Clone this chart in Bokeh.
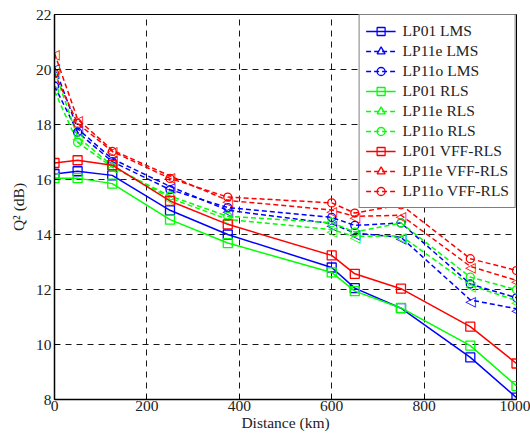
from bokeh.plotting import figure
from bokeh.models import Range1d, FixedTicker, Legend, LegendItem
from bokeh.core.properties import value
from bokeh.embed import file_html
from bokeh.resources import INLINE

distance = [0, 50, 125, 250, 375, 600, 650, 750, 900, 1000]

lp01_lms = [16.2, 16.3, 16.15, 14.88, 14.0, 12.8, 12.05, 11.32, 9.53, 8.07]
lp11e_lms = [20.1, 17.85, 16.75, 15.75, 14.88, 14.4, 14.05, 13.9, 11.62, 11.3]
lp11o_lms = [19.4, 17.72, 16.65, 15.63, 14.98, 14.62, 14.33, 14.42, 12.2, 11.7]
lp01_rls = [16.05, 16.05, 15.85, 14.54, 13.69, 12.62, 11.94, 11.33, 9.96, 8.49]
lp11e_rls = [19.95, 17.55, 16.5, 15.32, 14.55, 14.18, 13.93, 13.95, 12.15, 11.6]
lp11o_rls = [19.22, 17.35, 16.45, 15.4, 14.66, 14.43, 14.09, 14.42, 12.45, 11.99]
lp01_vff = [16.6, 16.7, 16.52, 15.22, 14.37, 13.24, 12.57, 12.03, 10.65, 9.31]
lp11e_vff = [20.59, 18.19, 17.07, 16.13, 15.24, 14.89, 14.66, 14.70, 12.84, 12.33]
lp11o_vff = [19.86, 18.04, 17.02, 16.04, 15.36, 15.15, 14.78, 15.08, 13.12, 12.69]

x_ticks = [0, 200, 400, 600, 800, 1000]
y_ticks = [8, 10, 12, 14, 16, 18, 20, 22]

series = [
    ("LP01 LMS", lp01_lms, "#0000FF", "solid", "square"),
    ("LP11e LMS", lp11e_lms, "#0000FF", "dashed", "left_triangle"),
    ("LP11o LMS", lp11o_lms, "#0000FF", "dashed", "circle"),
    ("LP01 RLS", lp01_rls, "#00FF00", "solid", "square"),
    ("LP11e RLS", lp11e_rls, "#00FF00", "dashed", "left_triangle"),
    ("LP11o RLS", lp11o_rls, "#00FF00", "dashed", "circle"),
    ("LP01 VFF-RLS", lp01_vff, "#FF0000", "solid", "square"),
    ("LP11e VFF-RLS", lp11e_vff, "#FF0000", "dashed", "left_triangle"),
    ("LP11o VFF-RLS", lp11o_vff, "#FF0000", "dashed", "circle"),
]

FONT = "Liberation Serif"
TRI = "\u25c1"

p = figure(width=530, height=439, output_backend="svg", toolbar_location=None,
           x_range=Range1d(0, 1000), y_range=Range1d(8, 22),
           min_border_left=54, min_border_right=14, min_border_top=14, min_border_bottom=40)
p.background_fill_color = "white"
p.border_fill_color = "white"
p.outline_line_color = "black"
p.outline_line_width = 1

for ax in [p.xaxis[0], p.yaxis[0]]:
    ax.major_tick_in = 5
    ax.major_tick_out = 0
    ax.minor_tick_line_color = None
    ax.axis_line_color = "black"
    ax.axis_line_width = 1.5
    ax.major_label_text_font = FONT
    ax.major_label_text_font_size = "15.5px"
    ax.major_label_text_color = "#222222"
    ax.axis_label_text_font = FONT
    ax.axis_label_text_font_size = "15.5px"
    ax.axis_label_text_font_style = "normal"
    ax.axis_label_text_color = "#222222"

p.xaxis.ticker = FixedTicker(ticks=x_ticks)
p.yaxis.ticker = FixedTicker(ticks=y_ticks)
p.xaxis.major_label_standoff = 1
p.yaxis.major_label_standoff = 3
p.xaxis.axis_label = "Distance (km)"
p.xaxis.axis_label_standoff = 0
p.yaxis.axis_label = "Q\u00b2 (dB)"
p.yaxis.axis_label_standoff = 6

p.xgrid.ticker = FixedTicker(ticks=x_ticks)
p.ygrid.ticker = FixedTicker(ticks=y_ticks)
for g in [p.xgrid[0], p.ygrid[0]]:
    g.grid_line_color = "black"
    g.grid_line_alpha = 0.9
    g.grid_line_dash = "6 5"
    g.grid_line_width = 1

items = []
for label, vals, color, dash, marker in series:
    dash_str = "solid" if dash == "solid" else "5 3"
    r1 = p.line(distance, vals, line_color=color, line_width=1.5, line_dash=dash_str)
    if marker == "left_triangle":
        r2 = p.text(distance, vals, text=[TRI] * len(distance),
                    text_font=value("DejaVu Sans"), text_font_size="14px",
                    text_color=color, text_align="center", text_baseline="middle",
                    y_offset=1)
        # legend-only key marker (no visible data point)
        r3 = p.scatter([float("nan")], [float("nan")], marker="triangle", size=9,
                       fill_color=None, line_color=color, line_width=1.3)
        renderers = [r1, r2, r3]
    else:
        r2 = p.scatter(distance, vals, marker=marker, size=9 if marker == "square" else 8,
                       fill_color=None, line_color=color, line_width=1.3)
        renderers = [r1, r2]
    items.append(LegendItem(label=label, renderers=renderers))

legend = Legend(items=items, location="top_right")
legend.margin = 0
legend.padding = 6
legend.spacing = 0
legend.label_height = 20
legend.glyph_height = 20
legend.glyph_width = 30
legend.label_text_font = FONT
legend.label_text_font_size = "15.5px"
legend.label_text_color = "#222222"
legend.label_standoff = 7
legend.border_line_color = "black"
legend.border_line_width = 1
legend.background_fill_color = "white"
legend.background_fill_alpha = 1
p.add_layout(legend, "center")

open("out.html", "w").write(file_html(p, INLINE))
